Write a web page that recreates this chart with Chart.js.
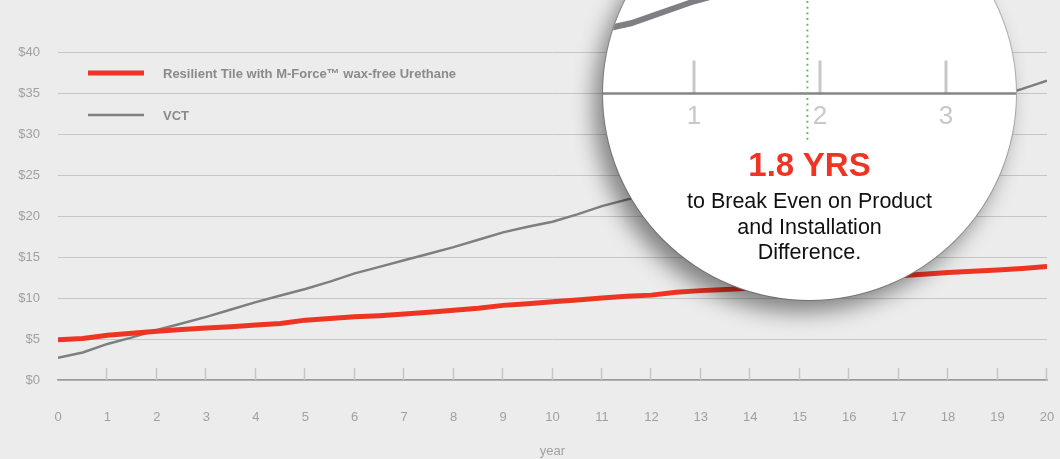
<!DOCTYPE html>
<html>
<head>
<meta charset="utf-8">
<script src="https://cdn.jsdelivr.net/npm/chart.js@4.4.1/dist/chart.umd.min.js"></script>
<style>
    body { margin: 0; background: #ececec; font-family: "Liberation Sans", Arial, sans-serif; }
    #wrap { position: relative; width: 1060px; height: 459px; overflow: hidden; }
    #lens {
        position: absolute; left: 603px; top: -113px; width: 413px; height: 413px;
        border-radius: 50%; overflow: hidden; background: #fff;
        box-shadow: -9px 12px 22px rgba(0, 0, 0, 0.45), 0 0 0 1px #b8b8b8;
    }
    #lens canvas { position: absolute; left: 0; top: 0; }
    #lensText { position: absolute; left: 0; width: 413px; top: 260px; text-align: center; }
    #lensText .big { color: #ee3524; font-weight: bold; font-size: 33px; line-height: 36px; }
    #lensText .small { color: #111; font-size: 21.5px; line-height: 25.5px; margin-top: 6px; }
</style>
</head>
<body>
<div id="wrap">
    <canvas id="costChart" width="1060" height="459"></canvas>
    <div id="lens">
        <canvas id="lensChart" width="413" height="413"></canvas>
        <div id="lensText">
            <div class="big">1.8 YRS</div>
            <div class="small">to Break Even on Product<br>and Installation<br>Difference.</div>
        </div>
    </div>
</div>
<script>
// Datos (cada medio año)
const years = [0, 0.5, 1, 1.5, 2, 2.5, 3, 3.5, 4, 4.5, 5, 5.5, 6, 6.5, 7, 7.5, 8, 8.5, 9, 9.5, 10,
    10.5, 11, 11.5, 12, 12.5, 13, 13.5, 14, 14.5, 15, 15.5, 16, 16.5, 17, 17.5, 18, 18.5, 19, 19.5, 20];
const tileCost = [4.9, 5.05, 5.45, 5.7, 5.95, 6.15, 6.35, 6.5, 6.7, 6.9, 7.3, 7.5, 7.7, 7.85, 8.05, 8.25, 8.5, 8.75, 9.1, 9.3, 9.55,
    9.75, 10.0, 10.2, 10.35, 10.7, 10.9, 11.05, 11.2, 11.4, 11.6, 11.9, 12.15, 12.45, 12.7, 12.9, 13.1, 13.25, 13.4, 13.6, 13.85];
const vctCost = [2.7, 3.35, 4.4, 5.2, 6.1, 6.9, 7.7, 8.6, 9.5, 10.3, 11.1, 12.0, 13.0, 13.8, 14.6, 15.4, 16.2, 17.1, 18.0, 18.7, 19.3,
    20.2, 21.2, 22.0, 22.7, 23.5, 24.4, 25.3, 26.1, 27.0, 27.8, 28.7, 29.5, 30.3, 31.2, 32.1, 32.9, 33.8, 34.6, 35.5, 36.5];
const yearTicks = [0, 1, 2, 3, 4, 5, 6, 7, 8, 9, 10, 11, 12, 13, 14, 15, 16, 17, 18, 19, 20];
const dollarTicks = [0, 5, 10, 15, 20, 25, 30, 35, 40];
const lensTicks = [1, 2, 3];
const breakEvenMarker = 1.9;

const tileLabel = 'Resilient Tile with M-Force™ wax-free Urethane';
const vctLabel = 'VCT';
const red = '#ee3524';
const gray = '#7f7f83';
const FONT = '"Liberation Sans", Arial, sans-serif';

function points(values) {
    return years.map((x, i) => ({ x: x, y: values[i] }));
}

// Marcas cortas hacia arriba sobre el eje x + leyenda dentro del área
const axisMarksPlugin = {
    id: 'axisMarks',
    beforeDatasetsDraw: (chart) => {
        const ctx = chart.ctx;
        const x = chart.scales.x;
        const base = chart.scales.y.getPixelForValue(0);
        ctx.save();
        ctx.strokeStyle = '#c6c6c6';
        ctx.lineWidth = 1.5;
        yearTicks.forEach(v => {
            if (v === 0) return;
            const px = Math.round(x.getPixelForValue(v)) - 0.5;
            ctx.beginPath();
            ctx.moveTo(px, base - 12);
            ctx.lineTo(px, base);
            ctx.stroke();
        });
        ctx.restore();
    },
    afterDraw: (chart) => {
        const ctx = chart.ctx;
        ctx.save();
        ctx.font = 'bold 13px ' + FONT;
        ctx.textBaseline = 'middle';
        chart.data.datasets.forEach((ds, i) => {
            const y = 73 + i * 42;
            ctx.strokeStyle = ds.borderColor;
            ctx.lineWidth = ds.borderWidth;
            ctx.beginPath();
            ctx.moveTo(88, y);
            ctx.lineTo(144, y);
            ctx.stroke();
            ctx.fillStyle = '#8a8a8a';
            ctx.fillText(ds.label, 163, y + 1);
        });
        ctx.restore();
    }
};

new Chart(document.getElementById('costChart').getContext('2d'), {
    type: 'line',
    data: {
        datasets: [{
            label: tileLabel,
            data: points(tileCost),
            borderColor: red,
            borderWidth: 5,
            pointRadius: 0,
            tension: 0
        }, {
            label: vctLabel,
            data: points(vctCost),
            borderColor: gray,
            borderWidth: 2.5,
            pointRadius: 0,
            tension: 0
        }]
    },
    options: {
        responsive: false,
        animation: false,
        layout: { padding: { top: 52, left: 0, right: 13, bottom: 0 } },
        plugins: { legend: { display: false }, tooltip: { enabled: false } },
        scales: {
            x: {
                type: 'linear',
                min: 0,
                max: 20,
                afterBuildTicks: (scale) => { scale.ticks = yearTicks.map(v => ({ value: v })); },
                afterFit: (scale) => { scale.height = 79; scale.paddingLeft = 0; scale.paddingRight = 0; },
                grid: { display: false, drawTicks: false },
                border: { display: true, color: '#9a9a9a', width: 1.5 },
                ticks: { color: '#a0a0a0', font: { family: FONT, size: 13 }, padding: 30, maxRotation: 0, autoSkip: false },
                title: { display: true, text: 'year', color: '#a0a0a0', font: { family: FONT, size: 13 }, padding: { top: 0, bottom: 0 } }
            },
            y: {
                min: 0,
                max: 40,
                afterBuildTicks: (scale) => { scale.ticks = dollarTicks.map(v => ({ value: v })); },
                afterFit: (scale) => { scale.width = 58; },
                grid: { color: '#c6c6c6', lineWidth: 1, drawTicks: false },
                border: { display: false },
                ticks: { color: '#a0a0a0', font: { family: FONT, size: 13 }, padding: 18, callback: v => '$' + v }
            }
        }
    },
    plugins: [axisMarksPlugin]
});

// Lupa: mismos datos, escala ampliada
const lensPlugin = {
    id: 'lensAxis',
    afterDatasetsDraw: (chart) => {
        const ctx = chart.ctx;
        const x = chart.scales.x;
        const base = chart.scales.y.getPixelForValue(0);
        ctx.save();
        ctx.strokeStyle = '#c8c8c8';
        ctx.lineWidth = 3;
        ctx.fillStyle = '#c8c8c8';
        ctx.font = '26px ' + FONT;
        ctx.textAlign = 'center';
        ctx.textBaseline = 'middle';
        lensTicks.forEach(v => {
            const px = x.getPixelForValue(v);
            ctx.beginPath();
            ctx.moveTo(px, base - 33);
            ctx.lineTo(px, base);
            ctx.stroke();
            ctx.fillText(String(v), px, base + 23);
        });
        ctx.strokeStyle = '#858585';
        ctx.lineWidth = 2.5;
        ctx.beginPath();
        ctx.moveTo(0, base);
        ctx.lineTo(chart.width, base);
        ctx.stroke();
        // línea punteada de equilibrio
        const bx = x.getPixelForValue(breakEvenMarker);
        ctx.strokeStyle = '#62c062';
        ctx.lineWidth = 2;
        ctx.setLineDash([2, 3.7]);
        ctx.beginPath();
        ctx.moveTo(bx, 0);
        ctx.lineTo(bx, base + 48);
        ctx.stroke();
        ctx.restore();
    }
};

new Chart(document.getElementById('lensChart').getContext('2d'), {
    type: 'line',
    data: {
        datasets: [{
            label: tileLabel,
            data: points(tileCost),
            borderColor: red,
            borderWidth: 12,
            pointRadius: 0,
            tension: 0
        }, {
            label: vctLabel,
            data: points(vctCost),
            borderColor: gray,
            borderWidth: 6,
            pointRadius: 0,
            tension: 0
        }]
    },
    options: {
        responsive: false,
        animation: false,
        layout: { padding: 0 },
        plugins: { legend: { display: false }, tooltip: { enabled: false } },
        scales: {
            x: { type: 'linear', display: false, min: 0.2778, max: 3.5556 },
            y: { display: false, min: -9.85, max: 9.85 }
        }
    },
    plugins: [lensPlugin]
});
</script>
</body>
</html>
